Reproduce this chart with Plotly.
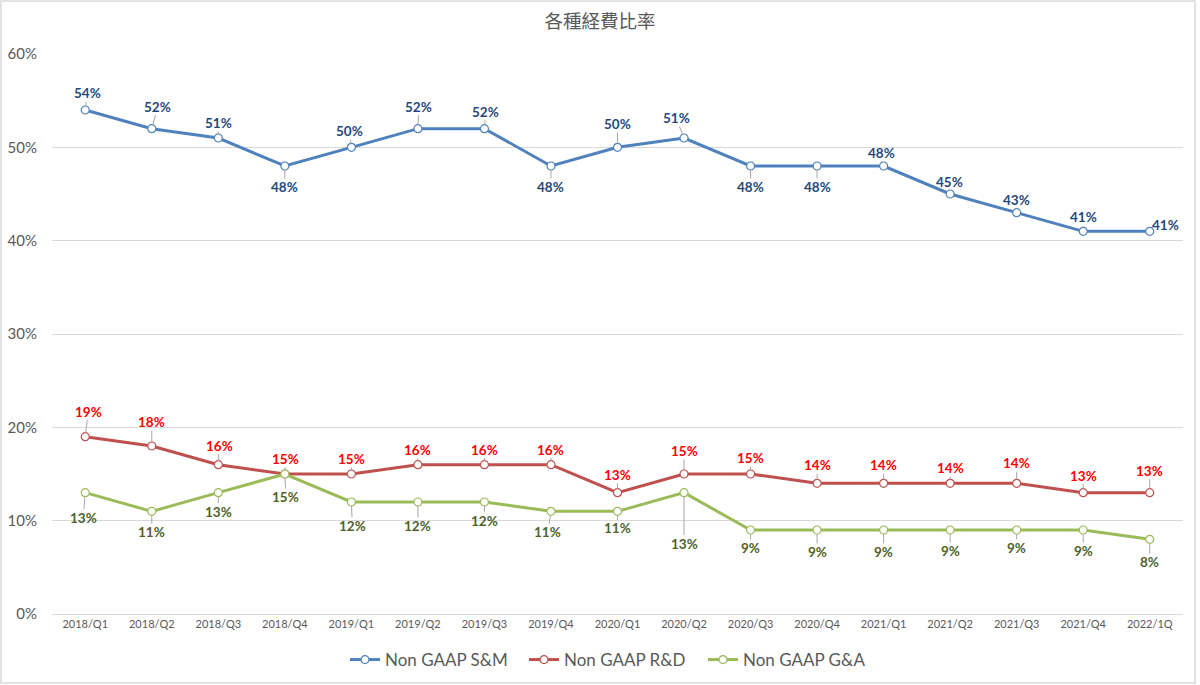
import plotly.graph_objects as go

categories = ["2018/Q1", "2018/Q2", "2018/Q3", "2018/Q4",
              "2019/Q1", "2019/Q2", "2019/Q3", "2019/Q4",
              "2020/Q1", "2020/Q2", "2020/Q3", "2020/Q4",
              "2021/Q1", "2021/Q2", "2021/Q3", "2021/Q4", "2022/1Q"]

sm_values = [0.54, 0.52, 0.51, 0.48, 0.50, 0.52, 0.52, 0.48, 0.50, 0.51,
             0.48, 0.48, 0.48, 0.45, 0.43, 0.41, 0.41]
rd_values = [0.19, 0.18, 0.16, 0.15, 0.15, 0.16, 0.16, 0.16, 0.13, 0.15,
             0.15, 0.14, 0.14, 0.14, 0.14, 0.13, 0.13]
ga_values = [0.13, 0.11, 0.13, 0.15, 0.12, 0.12, 0.12, 0.11, 0.11, 0.13,
             0.09, 0.09, 0.09, 0.09, 0.09, 0.09, 0.08]

series_names = ["Non GAAP S&M", "Non GAAP R&D", "Non GAAP G&A"]
y_ticks = [0, 0.1, 0.2, 0.3, 0.4, 0.5, 0.6]

# label offsets in pixels (style only)
sm_offsets = [(2, -17), (6, -22), (0, -15), (0, 21), (-2, -16), (1, -22), (1, -17), (0, 21),
              (0, -23), (-8, -20), (0, 21), (0, 21), (-2, -13), (-1, -12), (0, -13), (0, -14), (16, -6)]
rd_offsets = [(3, -25), (0, -24), (1, -19), (1, -15), (0, -15), (0, -15), (0, -15), (0, -15),
              (0, -18), (0, -23), (0, -16), (0, -18), (0, -18), (0, -15), (0, -20), (0, -17), (0, -22)]
ga_offsets = [(-2, 25), (0, 21), (0, 19), (1, 23), (1, 24), (0, 24), (0, 19), (-3, 21),
              (0, 17), (0, 51), (0, 18), (0, 22), (0, 22), (0, 21), (0, 18), (0, 21), (0, 23)]

line_colors = ["#4F81BD", "#C0504D", "#9BBB59"]
label_colors = ["#1F497D", "#FF0000", "#4F6228"]
font_family = "Lato, 'Noto Sans CJK TC', sans-serif"

fig = go.Figure()
all_vals = [sm_values, rd_values, ga_values]
all_offs = [sm_offsets, rd_offsets, ga_offsets]
annotations = []
for name, vals, offs, lc, tc in zip(series_names, all_vals, all_offs, line_colors, label_colors):
    fig.add_trace(go.Scatter(
        x=categories, y=vals, name=name, mode="lines+markers",
        line=dict(color=lc, width=3),
        marker=dict(symbol="circle", size=8, color="white", line=dict(color=lc, width=1.2)),
    ))
    for c, v, (dx, dy) in zip(categories, vals, offs):
        annotations.append(dict(
            x=c, y=v, xref="x", yref="y", text=f"<b>{round(v*100)}%</b>",
            showarrow=True, arrowhead=0, arrowwidth=1, arrowcolor="#A6A6A6",
            ax=dx, ay=dy, standoff=4, startstandoff=0,
            font=dict(family=font_family, size=13.5, color=tc),
            borderpad=0,
        ))

fig.update_layout(
    width=1200, height=685,
    margin=dict(l=52, r=17, t=54, b=71, autoexpand=False),
    paper_bgcolor="white", plot_bgcolor="white",
    title=dict(text="各種経費比率", x=0.5, xanchor="center", y=1 - 22/685, yanchor="middle",
               font=dict(family="'Noto Sans CJK TC', sans-serif", size=18.5, color="#595959"),
               automargin=False),
    xaxis=dict(type="category", range=[-0.5, len(categories) - 0.5], automargin=False,
               showgrid=False, showline=True, linecolor="#D9D9D9",
               ticks="", tickfont=dict(family=font_family, size=11, color="#595959"),
               fixedrange=True),
    yaxis=dict(range=[0, 0.6], tickvals=y_ticks, tickformat=".0%", showgrid=True, automargin=False,
               gridcolor="#D9D9D9", gridwidth=1, zeroline=False, showline=False,
               tickfont=dict(family=font_family, size=15, color="#595959"),
               ticklabelstandoff=14, fixedrange=True),
    legend=dict(orientation="h", x=(345 - 52) / 1131, xanchor="left",
                y=-(660 - 614) / 560, yanchor="middle",
                font=dict(family=font_family, size=17, color="#595959"),
                itemwidth=30, entrywidth=134, entrywidthmode="pixels", tracegroupgap=0),
    annotations=annotations,
    showlegend=True,
)

# outer chart frame
fig.add_shape(type="rect", xref="paper", yref="paper",
              x0=(1 - 52) / 1131, x1=(1195 - 52) / 1131,
              y0=(614 - 683) / 560, y1=(614 - 1) / 560,
              line=dict(color="#D9D9D9", width=1.5), fillcolor="rgba(0,0,0,0)", layer="below")

fig.write_html("out.html", config={"displayModeBar": False},
               post_script="document.body.style.margin='0';document.body.style.overflow='hidden';")
